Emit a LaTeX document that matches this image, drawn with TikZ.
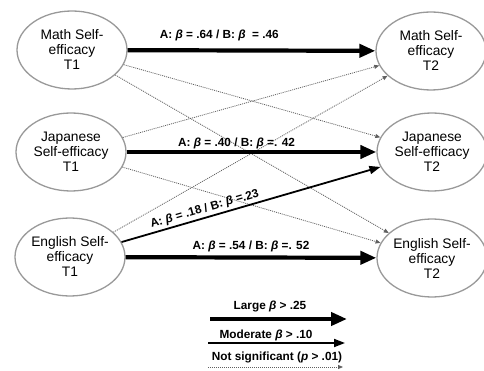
\documentclass[tikz,border=0pt]{standalone}
\usepackage{fontspec}
\setmainfont{Liberation Sans}
\usetikzlibrary{arrows.meta,shapes.geometric}

\begin{document}
\begin{tikzpicture}[x=1pt,y=-1pt,
    factor/.style={ellipse, draw=gray!80, line width=1.3pt, minimum width=110pt,
      minimum height=78pt, inner sep=0pt, align=center,
      font=\fontsize{13.8}{15}\selectfont},
    large/.style={line width=4.2pt, -{Triangle[length=16pt,width=13pt]}},
    moderate/.style={line width=1.8pt, -{Triangle[length=11pt,width=8pt]}},
    nonsig/.style={gray!75!black, line width=0.8pt, dash pattern=on 1pt off 1pt,
      -{Triangle[length=5pt,width=4pt]}},
    coef/.style={font=\bfseries\fontsize{11.8}{13}\selectfont, inner sep=1pt}]
  % frame of the page
  \useasboundingbox (0,0) rectangle (484,371);

  % time 1
  \node[factor] (math1) at (72,50) {Math Self-\\efficacy\\T1};
  \node[factor] (jap1) at (71,152) {Japanese\\Self-efficacy\\T1};
  \node[factor] (eng1) at (70,257) {English Self-\\efficacy\\T1};

  % time 2
  \node[factor] (math2) at (431,51) {Math Self-\\efficacy\\T2};
  \node[factor] (jap2) at (432,152) {Japanese\\Self-efficacy\\T2};
  \node[factor] (eng2) at (432,258) {English Self-\\efficacy\\T2};

  % cross paths, not significant
  \draw[nonsig] (math1) -- (jap2);
  \draw[nonsig] (math1) -- (eng2);
  \draw[nonsig] (jap1) -- (math2);
  \draw[nonsig] (jap1) -- (eng2);
  \draw[nonsig] (eng1) -- (math2);

  % stability paths
  \draw[large] (math1) -- node[coef, pos=0.37, above=6pt]
    {A: \textit{β} = .64 / B: \textit{β}\ \ = .46} (math2);
  \draw[large] (jap1) -- node[coef, pos=0.44, above=0pt]
    {A: \textit{β} = .40 / B: \textit{β} =. 42} (jap2);
  \draw[large] (eng1) -- node[coef, pos=0.5, above=2pt]
    {A: \textit{β} = .54 / B: \textit{β} =. 52} (eng2);

  % english to japanese
  \draw[moderate] (eng1) -- node[coef, pos=0.33, sloped, above=1pt]
    {A: \textit{β} = .18 / B: \textit{β} =.23} (jap2);

  % key
  \node[coef] (largekey) at (270,306) {Large \textit{β} > .25};
  \coordinate (largeL) at (210,319);
  \coordinate (largeR) at (347,319);
  \draw[large] (largeL) -- (largeR);

  \node[coef] (modkey) at (266,335) {Moderate \textit{β} > .10};
  \coordinate (modL) at (208,343);
  \coordinate (modR) at (345,343);
  \draw[moderate] (modL) -- (modR);

  \node[coef] (nskey) at (277,357) {Not significant (\textit{p} > .01)};
  \coordinate (nsL) at (208,367);
  \coordinate (nsR) at (343,367);
  \draw[nonsig] (nsL) -- (nsR);
\end{tikzpicture}
\end{document}
